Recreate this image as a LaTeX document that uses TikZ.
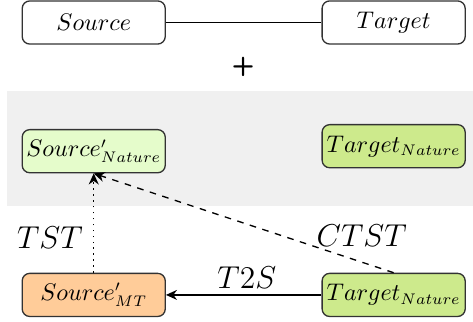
\documentclass[tikz,border=0pt]{standalone}
\usepackage{amsmath}
\usepackage{amssymb,amsfonts}
\usepackage{tikz}
\usepackage{color}
\usetikzlibrary{arrows.meta}
\usetikzlibrary{positioning}
\definecolor{bggray}{HTML}{F0F0F0}
\definecolor{natlight}{HTML}{E5FCCB}
\definecolor{natdark}{HTML}{CDEA8C}
\definecolor{mtorange}{HTML}{FFCC99}
\tikzset{box/.style={draw=black!80,line width=0.6pt,rounded corners=0.8ex,minimum width=2.29cm,minimum height=0.69cm,inner sep=0pt,font=\fontsize{10.6}{12}\selectfont},
lbl/.style={font=\Large}}

\begin{document}
\begin{tikzpicture}[>={Stealth[length=5pt,width=4.5pt,inset=1.6pt]}, line width=0.6pt]
\useasboundingbox (0,0) rectangle (7.57cm,-5.15cm);
\fill[bggray] (0.11cm,-1.46cm) rectangle (7.57cm,-3.30cm);

\node (src) at (1.5cm,-0.36cm) [box] {$Source$};
\node (tgt) at (6.3cm,-0.36cm) [box] {$Target$};
\node (plus) at (3.89cm,-1.07cm) [font=\large\bfseries\sffamily] {+};

\node (srcnat) at (1.5cm,-2.42cm) [box,fill=natlight] {$Source'_{Nature}$};
\node (tgtnat) at (6.3cm,-2.34cm) [box,fill=natdark] {$Target_{Nature}$};

\node (srcmt) at (1.5cm,-4.72cm) [box,fill=mtorange] {$Source'_{MT}$};
\node (tgtmt) at (6.3cm,-4.72cm) [box,fill=natdark] {$Target_{Nature}$};

\node (tst) at (0.8cm,-3.81cm) [lbl] {$TST$};
\node (ctst) at (5.79cm,-3.78cm) [lbl] {$CTST$};
\node (t2s) at (3.95cm,-4.45cm) [lbl] {$T2S$};

\draw [-] (src) -- (tgt);
\draw [->] (tgtmt) -- (srcmt);
\draw [->,dotted,line width=0.7pt] (srcmt) -- (srcnat);
\draw [->,dashed] (tgtmt.north) -- (srcnat.south);
\end{tikzpicture}
\end{document}
